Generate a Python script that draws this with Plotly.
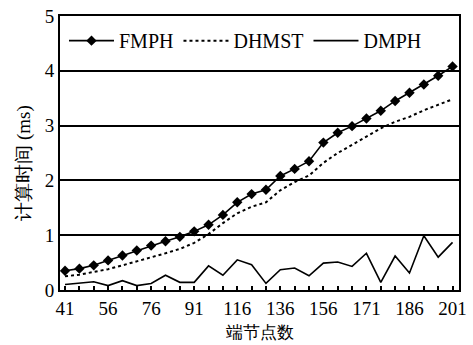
import plotly.graph_objects as go

# category positions (index) and visible tick labels
x_idx = list(range(28))
tick_pos = [0, 3, 6, 9, 12, 15, 18, 21, 24, 27]
tick_labels = ["41", "56", "76", "91", "116", "136", "156", "171", "186", "201"]

fmph = [0.35, 0.39, 0.45, 0.54, 0.63, 0.72, 0.81, 0.89, 0.97, 1.07,
        1.19, 1.37, 1.60, 1.75, 1.83, 2.08, 2.21, 2.35, 2.69, 2.87,
        2.99, 3.13, 3.27, 3.45, 3.60, 3.75, 3.91, 4.08]
dhmst = [0.25, 0.28, 0.33, 0.38, 0.45, 0.52, 0.60, 0.67, 0.75, 0.86,
         1.02, 1.22, 1.40, 1.52, 1.60, 1.82, 1.97, 2.09, 2.32, 2.50,
         2.65, 2.80, 2.95, 3.07, 3.16, 3.28, 3.38, 3.48]
dmph = [0.10, 0.13, 0.15, 0.08, 0.17, 0.08, 0.12, 0.27, 0.14, 0.14,
        0.44, 0.27, 0.55, 0.46, 0.12, 0.37, 0.40, 0.26, 0.49, 0.51,
        0.43, 0.67, 0.14, 0.62, 0.31, 0.99, 0.60, 0.87]

serif = "Times New Roman, Liberation Serif, DejaVu Serif, serif"

fig = go.Figure()
fig.add_trace(go.Scatter(x=x_idx, y=fmph, name="FMPH", mode="lines+markers",
                         line=dict(color="black", width=1.6),
                         marker=dict(symbol="diamond", size=8, color="black")))
fig.add_trace(go.Scatter(x=x_idx, y=dhmst, name="DHMST", mode="lines",
                         line=dict(color="black", width=2, dash="dot")))
fig.add_trace(go.Scatter(x=x_idx, y=dmph, name="DMPH", mode="lines",
                         line=dict(color="black", width=1.6)))

fig.update_layout(
    width=473, height=345,
    margin=dict(l=60, r=6, t=15, b=55),
    paper_bgcolor="white", plot_bgcolor="white",
    font=dict(family=serif, color="black", size=18),
    showlegend=True,
    legend=dict(orientation="h", x=0.01, y=0.91, xanchor="left", yanchor="middle",
                bgcolor="rgba(0,0,0,0)", font=dict(size=20, family=serif, color="black"),
                itemwidth=45, tracegroupgap=0),
    xaxis=dict(range=[-0.35, 27.45], tickmode="array", tickvals=tick_pos,
               ticktext=tick_labels, ticks="inside", ticklen=4, tickwidth=1.5,
               tickcolor="black",
               minor=dict(tick0=0, dtick=1, ticks="inside", ticklen=4,
                          tickwidth=1.5, tickcolor="black", showgrid=False),
               showgrid=False, zeroline=False, showline=True, linecolor="black",
               linewidth=2, mirror=True, tickfont=dict(size=19, family=serif, color="black"),
               title=dict(text="端节点数", font=dict(size=17, family=serif, color="black"), standoff=8)),
    yaxis=dict(range=[0, 5], dtick=1, showgrid=True, gridcolor="black", gridwidth=1.5,
               zeroline=False, showline=True, linecolor="black", linewidth=2,
               mirror=True, ticks="", tickfont=dict(size=19, family=serif, color="black")),
    annotations=[dict(text="计算时间 (ms)", textangle=-90, xref="paper", yref="paper",
                      x=-0.091, y=0.463, xanchor="center", yanchor="middle",
                      showarrow=False, font=dict(size=19, family=serif, color="black"))],
)

fig.write_html("out.html")
